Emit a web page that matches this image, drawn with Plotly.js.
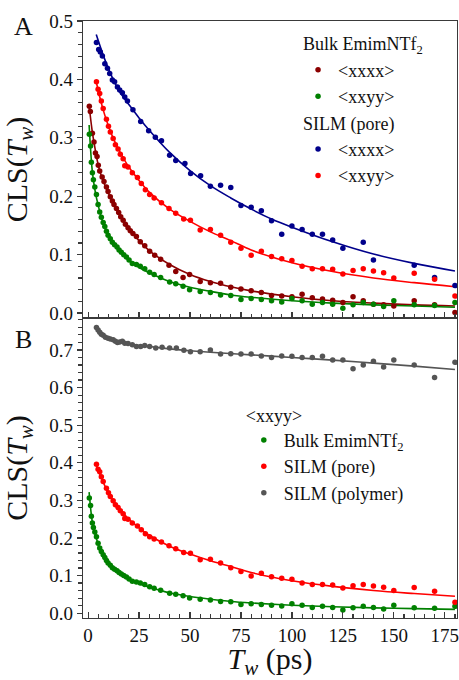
<!DOCTYPE html>
<html>
<head>
<meta charset="utf-8">
<script src="https://cdn.plot.ly/plotly-3.0.1.min.js"></script>
<style>html,body{margin:0;padding:0;background:#fff;}#chart{width:459px;height:680px;}</style>
</head>
<body>
<div id="chart"></div>
<script>
// ---- Data ----
// Bulk EmimNTf2 <xxxx> (dark red)
const tBulkXXXX = [0.6, 1.1, 2.1, 2.9, 3.6, 4.4, 5.0, 5.7, 6.9, 7.8, 9.0, 9.8, 10.9, 11.9, 12.7, 13.9, 15.0, 16.0, 17.2, 18.3, 19.6, 20.7, 22.0, 23.7, 25.6, 27.8, 30.2, 32.7, 35.6, 39.7, 43, 46.6, 49.8, 55, 60, 65, 70, 75, 80, 85, 90, 95, 100, 105, 110, 115, 120, 125, 130, 135, 140, 145, 150, 160, 170, 180];
const vBulkXXXX = [0.354, 0.345, 0.308, 0.293, 0.274, 0.268, 0.253, 0.243, 0.233, 0.225, 0.216, 0.208, 0.199, 0.192, 0.186, 0.179, 0.172, 0.165, 0.159, 0.152, 0.146, 0.141, 0.136, 0.131, 0.122, 0.115, 0.106, 0.099, 0.092, 0.082, 0.071, 0.061, 0.066, 0.054, 0.052, 0.051, 0.044, 0.041, 0.038, 0.035, 0.030, 0.029, 0.028, 0.032, 0.026, 0.024, 0.022, 0.018, 0.028, 0.021, 0.015, 0.014, 0.012, 0.021, 0.014, 0.001];
const tFitBulkXXXX = [0.5, 1, 2, 3, 4, 5, 6, 8, 10, 12, 15, 20, 25, 30, 40, 50, 60, 70, 80, 100, 120, 140, 160, 180];
const vFitBulkXXXX = [0.356, 0.340, 0.312, 0.290, 0.270, 0.253, 0.240, 0.221, 0.205, 0.191, 0.172, 0.145, 0.124, 0.107, 0.083, 0.066, 0.054, 0.045, 0.038, 0.028, 0.021, 0.017, 0.014, 0.012];

// Bulk EmimNTf2 <xxyy> (green)
const tBulkXXYY = [0.6, 1.2, 1.6, 2.1, 2.6, 3.3, 4.1, 4.9, 5.7, 6.5, 7.4, 8.2, 9.0, 9.8, 10.9, 11.9, 13.0, 14.2, 15.2, 16.3, 17.5, 18.8, 20.1, 21.7, 23.7, 25.6, 27.8, 30.2, 32.4, 35.6, 40, 43, 46.6, 49.8, 55, 60, 65, 70, 75, 80, 85, 90, 95, 100, 105, 110, 115, 120, 125, 130, 135, 140, 145, 150, 160, 170, 180];
const vBulkXXYY = [0.306, 0.286, 0.258, 0.240, 0.228, 0.216, 0.203, 0.186, 0.173, 0.164, 0.155, 0.148, 0.140, 0.133, 0.127, 0.121, 0.117, 0.113, 0.108, 0.104, 0.100, 0.096, 0.091, 0.085, 0.083, 0.080, 0.076, 0.070, 0.066, 0.061, 0.053, 0.050, 0.046, 0.040, 0.037, 0.035, 0.031, 0.030, 0.023, 0.025, 0.023, 0.021, 0.019, 0.025, 0.021, 0.015, 0.018, 0.015, 0.008, 0.014, 0.018, 0.015, 0.011, 0.021, 0.014, 0.013, 0.018];
const tFitBulkXXYY = [0.5, 1, 1.5, 2, 3, 4, 5, 6, 8, 10, 12, 15, 20, 25, 30, 40, 50, 60, 70, 80, 100, 120, 140, 160, 180];
const vFitBulkXXYY = [0.322, 0.292, 0.266, 0.245, 0.218, 0.199, 0.184, 0.170, 0.149, 0.133, 0.121, 0.107, 0.090, 0.078, 0.069, 0.054, 0.044, 0.037, 0.031, 0.027, 0.021, 0.017, 0.014, 0.012, 0.010];

// SILM (pore) <xxxx> (navy)
const tPoreXXXX = [4.1, 5.2, 6.0, 7.0, 8.2, 9.5, 10.6, 11.9, 13.0, 14.4, 15.5, 16.8, 18.0, 19.3, 22.0, 25.8, 29.7, 33.0, 36.0, 40.0, 43.0, 47.5, 50.3, 55.2, 60, 65, 70, 75, 80, 85, 90, 95, 100, 105, 110, 115, 120, 125, 135, 140, 160, 170, 180];
const vPoreXXXX = [0.463, 0.451, 0.447, 0.440, 0.427, 0.419, 0.410, 0.399, 0.396, 0.387, 0.382, 0.377, 0.370, 0.363, 0.348, 0.328, 0.312, 0.301, 0.295, 0.270, 0.261, 0.256, 0.239, 0.235, 0.217, 0.219, 0.215, 0.184, 0.181, 0.175, 0.158, 0.135, 0.149, 0.143, 0.135, 0.135, 0.125, 0.111, 0.121, 0.091, 0.082, 0.061, 0.047];
const tFitPoreXXXX = [4, 6, 8, 10, 13, 16, 20, 25, 30, 40, 50, 60, 70, 80, 90, 100, 120, 140, 160, 180];
const vFitPoreXXXX = [0.477, 0.456, 0.436, 0.418, 0.395, 0.376, 0.357, 0.334, 0.313, 0.275, 0.244, 0.218, 0.197, 0.178, 0.161, 0.147, 0.122, 0.101, 0.085, 0.072];

// SILM (pore) <xxyy> (red)
const tPoreXXYY = [4.1, 4.9, 5.7, 6.5, 7.4, 9.0, 10.0, 10.9, 12.3, 13.4, 14.7, 15.8, 17.2, 18.0, 19.6, 21.7, 24.2, 26.1, 28.1, 30.2, 32.4, 36.0, 39.7, 43.0, 46.9, 50.2, 55, 60, 65, 70, 75, 80, 85, 90, 95, 100, 105, 110, 115, 120, 125, 130, 135, 140, 145, 150, 160, 170, 180];
const vPoreXXYY = [0.396, 0.383, 0.376, 0.363, 0.350, 0.332, 0.320, 0.310, 0.299, 0.288, 0.281, 0.272, 0.264, 0.252, 0.250, 0.240, 0.232, 0.222, 0.211, 0.203, 0.197, 0.189, 0.179, 0.171, 0.161, 0.159, 0.142, 0.143, 0.133, 0.121, 0.111, 0.099, 0.106, 0.097, 0.093, 0.090, 0.080, 0.076, 0.076, 0.075, 0.067, 0.073, 0.076, 0.072, 0.069, 0.060, 0.068, 0.058, 0.029];
const tFitPoreXXYY = [4, 6, 8, 10, 12, 15, 20, 25, 30, 40, 50, 60, 70, 80, 100, 120, 140, 160, 180];
const vFitPoreXXYY = [0.396, 0.366, 0.341, 0.320, 0.302, 0.280, 0.250, 0.227, 0.207, 0.178, 0.157, 0.139, 0.124, 0.108, 0.086, 0.071, 0.060, 0.052, 0.045];

// SILM (polymer) <xxyy> (gray)
const tPolymer = [4.1, 4.9, 5.7, 6.5, 7.4, 8.5, 9.8, 10.9, 12.3, 13.4, 14.4, 15.5, 16.8, 18.0, 19.6, 21.7, 23.7, 25.8, 27.8, 30.2, 33.2, 36.3, 40, 43.3, 47, 50.2, 55, 60, 65, 70, 75, 80, 85, 90, 95, 100, 105, 110, 115, 120, 125, 130, 135, 140, 145, 150, 160, 170, 180];
const vPolymer = [0.760, 0.753, 0.747, 0.742, 0.739, 0.734, 0.731, 0.729, 0.727, 0.723, 0.720, 0.721, 0.723, 0.718, 0.717, 0.714, 0.709, 0.709, 0.712, 0.709, 0.705, 0.707, 0.705, 0.705, 0.699, 0.695, 0.695, 0.700, 0.689, 0.690, 0.689, 0.689, 0.684, 0.680, 0.684, 0.683, 0.680, 0.680, 0.683, 0.673, 0.673, 0.650, 0.660, 0.670, 0.655, 0.673, 0.660, 0.627, 0.667];
const tFitPolymer = [4, 6, 8, 10, 13, 16, 20, 30, 40, 50, 60, 80, 100, 120, 140, 160, 180];
const vFitPolymer = [0.762, 0.748, 0.738, 0.731, 0.725, 0.720, 0.716, 0.709, 0.703, 0.698, 0.694, 0.687, 0.680, 0.673, 0.665, 0.657, 0.648];

const xTicks = [0, 25, 50, 75, 100, 125, 150, 175];

// ---- Styles ----
const C_DARKRED = '#8b0000', C_GREEN = '#008000', C_NAVY = '#00008b', C_RED = '#ff0000', C_GRAY = '#555555';
const FONT = 'Liberation Serif';
const MS = 5.5, LW = 1.6;

function pts(x, y, color, name, xa, ya, extra) {
  return Object.assign({type: 'scatter', mode: 'markers', x: x, y: y, name: name, xaxis: xa, yaxis: ya,
    marker: {color: color, size: MS}, hoverinfo: 'skip'}, extra || {});
}
function fit(x, y, color, xa, ya) {
  return {type: 'scatter', mode: 'lines', x: x, y: y, xaxis: xa, yaxis: ya, showlegend: false,
    line: {color: color, width: LW, shape: 'spline', smoothing: 1.0}, hoverinfo: 'skip'};
}

const traces = [
  fit(tFitBulkXXXX, vFitBulkXXXX, C_DARKRED, 'x2', 'y2'),
  fit(tFitBulkXXYY, vFitBulkXXYY, C_GREEN, 'x2', 'y2'),
  fit(tFitPoreXXXX, vFitPoreXXXX, C_NAVY, 'x2', 'y2'),
  fit(tFitPoreXXYY, vFitPoreXXYY, C_RED, 'x2', 'y2'),
  pts(tBulkXXXX, vBulkXXXX, C_DARKRED, '&lt;xxxx&gt;', 'x2', 'y2', {legend: 'legend', legendgroup: 'bulk', legendgrouptitle: {text: 'Bulk EmimNTf<sub>2</sub>'}}),
  pts(tBulkXXYY, vBulkXXYY, C_GREEN, '&lt;xxyy&gt;', 'x2', 'y2', {legend: 'legend', legendgroup: 'bulk'}),
  pts(tPoreXXXX, vPoreXXXX, C_NAVY, '&lt;xxxx&gt;', 'x2', 'y2', {legend: 'legend', legendgroup: 'pore', legendgrouptitle: {text: 'SILM (pore)'}}),
  pts(tPoreXXYY, vPoreXXYY, C_RED, '&lt;xxyy&gt;', 'x2', 'y2', {legend: 'legend', legendgroup: 'pore'}),
  fit(tFitBulkXXYY, vFitBulkXXYY, C_GREEN, 'x', 'y'),
  fit(tFitPoreXXYY, vFitPoreXXYY, C_RED, 'x', 'y'),
  fit(tFitPolymer, vFitPolymer, C_GRAY, 'x', 'y'),
  pts(tBulkXXYY, vBulkXXYY, C_GREEN, 'Bulk EmimNTf<sub>2</sub>', 'x', 'y', {legend: 'legend2'}),
  pts(tPoreXXYY, vPoreXXYY, C_RED, 'SILM (pore)', 'x', 'y', {legend: 'legend2'}),
  pts(tPolymer, vPolymer, C_GRAY, 'SILM (polymer)', 'x', 'y', {legend: 'legend2'})
];

const AXCOL = '#3a3a3a';
const xCommon = {
  range: [-2.5, 181], tickmode: 'array', tickvals: xTicks, ticks: 'inside', ticklen: 6, tickwidth: 1.2, tickcolor: AXCOL,
  minor: {dtick: 5, tick0: 0, ticks: 'inside', ticklen: 4, tickwidth: 1.1, tickcolor: AXCOL, showgrid: false},
  showline: true, linecolor: AXCOL, linewidth: 1.3, mirror: true, showgrid: false, zeroline: false,
  ticklabeloverflow: 'allow',
  tickfont: {family: FONT, size: 19, color: '#111'}
};
const yCommon = {
  dtick: 0.1, tick0: 0, tickformat: '.1f', ticks: 'outside', ticklen: 5, tickwidth: 1.2, tickcolor: AXCOL,
  minor: {dtick: 0.02, tick0: 0, ticks: 'outside', ticklen: 4, tickwidth: 1.1, tickcolor: AXCOL, showgrid: false},
  showline: true, linecolor: AXCOL, linewidth: 1.3, mirror: true, showgrid: false, zeroline: false,
  tickfont: {family: FONT, size: 19, color: '#111'},
  title: {text: 'CLS(<i>T<sub>w</sub></i>)', font: {family: FONT, size: 30, color: '#111'}}
};

const split = 0.5025;
const layout = {
  width: 459, height: 680,
  margin: {l: 83, r: 2, t: 21, b: 62},
  paper_bgcolor: '#fff', plot_bgcolor: '#fff',
  font: {family: FONT, color: '#111'},
  xaxis: Object.assign({}, xCommon, {anchor: 'y', domain: [0, 1],
    title: {text: '<i>T<sub>w</sub></i> (ps)', standoff: 8, font: {family: FONT, size: 30, color: '#111'}}}),
  xaxis2: Object.assign({}, xCommon, {anchor: 'y2', matches: 'x', showticklabels: false}),
  yaxis: Object.assign({}, yCommon, {anchor: 'x', domain: [0, split], range: [-0.013, 0.785]}),
  yaxis2: Object.assign({}, yCommon, {anchor: 'x2', domain: [split, 1], range: [-0.0085, 0.5]}),
  legend: {x: 0.575, y: 0.993, xanchor: 'left', yanchor: 'top', bgcolor: 'rgba(0,0,0,0)', borderwidth: 0,
    traceorder: 'grouped', tracegroupgap: 0, font: {family: FONT, size: 18, color: '#111'},
    grouptitlefont: {family: FONT, size: 18, color: '#111'}, itemsizing: 'trace'},
  legend2: {x: 0.43, y: 0.368, xanchor: 'left', yanchor: 'top', bgcolor: 'rgba(0,0,0,0)', borderwidth: 0,
    font: {family: FONT, size: 18, color: '#111'},
    title: {text: '&lt;xxyy&gt;', side: 'top', font: {family: FONT, size: 18, color: '#111'}}},
  annotations: [
    {text: 'A', xref: 'paper', yref: 'paper', x: -0.16, y: 0.99, xanchor: 'center', yanchor: 'middle', showarrow: false,
      font: {family: FONT, size: 26, color: '#111'}},
    {text: 'B', xref: 'paper', yref: 'paper', x: -0.16, y: 0.467, xanchor: 'center', yanchor: 'middle', showarrow: false,
      font: {family: FONT, size: 26, color: '#111'}}
  ],
  showlegend: true
};

Plotly.newPlot('chart', traces, layout, {displayModeBar: false, staticPlot: true});
</script>
</body>
</html>
